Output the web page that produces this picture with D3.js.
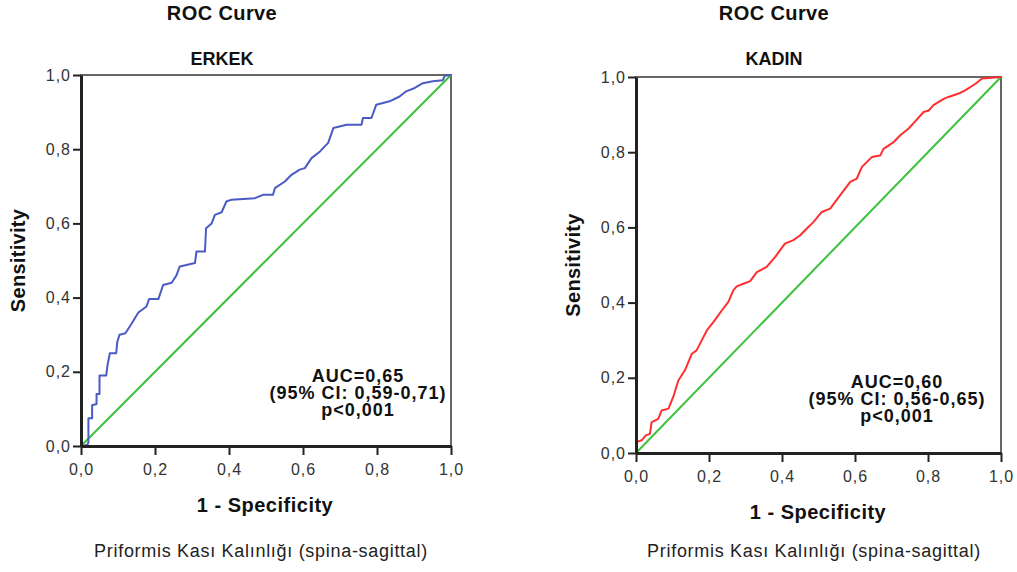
<!DOCTYPE html>
<html>
<head>
<meta charset="utf-8">
<script src="https://cdn.jsdelivr.net/npm/d3@7"></script>
<style>
  body { margin: 0; background: #fff; }
  svg { display: block; font-family: "Liberation Sans", Arial, sans-serif; }
  .bold { font-weight: bold; fill: #111; }
</style>
</head>
<body>
<svg id="chart" width="1017" height="572"></svg>
<script>
// values
const tickValues = [0, 0.2, 0.4, 0.6, 0.8, 1.0];
const diagonal = [0, 1];

// ERKEK (men) - 1-specificity / sensitivity
const erkekFpr = [0, 0.017, 0.02, 0.02, 0.03, 0.03, 0.042, 0.042, 0.05, 0.05, 0.068, 0.072, 0.078, 0.095, 0.098, 0.104, 0.12, 0.137, 0.155, 0.177, 0.184, 0.209, 0.222, 0.245, 0.258, 0.267, 0.285, 0.308, 0.312, 0.335, 0.338, 0.353, 0.362, 0.38, 0.393, 0.407, 0.47, 0.492, 0.519, 0.524, 0.551, 0.569, 0.591, 0.605, 0.623, 0.646, 0.668, 0.682, 0.718, 0.758, 0.762, 0.785, 0.798, 0.834, 0.861, 0.879, 0.902, 0.924, 0.951, 0.978, 0.983, 1.0];
const erkekTpr = [0, 0.003, 0.01, 0.075, 0.075, 0.11, 0.113, 0.14, 0.14, 0.19, 0.19, 0.22, 0.25, 0.25, 0.28, 0.30, 0.304, 0.33, 0.36, 0.376, 0.396, 0.396, 0.434, 0.44, 0.46, 0.484, 0.488, 0.493, 0.524, 0.524, 0.587, 0.60, 0.623, 0.63, 0.659, 0.664, 0.668, 0.677, 0.677, 0.695, 0.713, 0.731, 0.745, 0.749, 0.776, 0.794, 0.817, 0.857, 0.866, 0.866, 0.884, 0.884, 0.92, 0.929, 0.942, 0.956, 0.965, 0.978, 0.983, 0.986, 0.998, 1.0];

// KADIN (women)
const kadinFpr = [0, 0, 0.016, 0.027, 0.038, 0.043, 0.061, 0.07, 0.089, 0.102, 0.116, 0.134, 0.153, 0.166, 0.194, 0.212, 0.235, 0.253, 0.267, 0.276, 0.294, 0.313, 0.331, 0.358, 0.381, 0.408, 0.431, 0.45, 0.468, 0.486, 0.509, 0.532, 0.559, 0.587, 0.605, 0.619, 0.646, 0.669, 0.678, 0.706, 0.724, 0.747, 0.761, 0.788, 0.802, 0.815, 0.843, 0.856, 0.884, 0.903, 0.93, 0.948, 1.0];
const kadinTpr = [0, 0.029, 0.034, 0.047, 0.051, 0.082, 0.091, 0.113, 0.118, 0.149, 0.193, 0.22, 0.264, 0.273, 0.326, 0.348, 0.379, 0.402, 0.433, 0.443, 0.45, 0.457, 0.481, 0.495, 0.521, 0.557, 0.566, 0.579, 0.597, 0.614, 0.641, 0.65, 0.685, 0.721, 0.73, 0.761, 0.787, 0.791, 0.809, 0.827, 0.845, 0.863, 0.878, 0.907, 0.911, 0.925, 0.942, 0.947, 0.956, 0.965, 0.982, 0.996, 1.0];

const erkekStats = ["AUC=0,65", "(95% CI: 0,59-0,71)", "p<0,001"];
const kadinStats = ["AUC=0,60", "(95% CI: 0,56-0,65)", "p<0,001"];
const variableName = "Priformis Kası Kalınlığı (spina-sagittal)";

const svg = d3.select("#chart");
const fmt = d => d3.format(".1f")(d).replace(".", ",");

function drawPanel(p) {
  const x = d3.scaleLinear().domain([0, 1]).range([p.left, p.right]);
  const y = d3.scaleLinear().domain([0, 1]).range([p.bottom, p.top]);
  const g = svg.append("g");

  // titles
  g.append("text").attr("class", "bold").attr("x", p.titleX).attr("y", 20)
    .attr("text-anchor", "middle").style("font-size", "20px").style("letter-spacing", "0.4px")
    .text("ROC Curve");
  g.append("text").attr("class", "bold").attr("x", p.titleX).attr("y", 65)
    .attr("text-anchor", "middle").style("font-size", "18px").text(p.name);

  // frame (top/right lighter)
  g.append("rect").attr("x", p.left).attr("y", p.top)
    .attr("width", p.right - p.left).attr("height", p.bottom - p.top)
    .attr("fill", "none").attr("stroke", "#666").attr("stroke-width", 2);

  // diagonal reference line
  const line = d3.line().x(d => x(d[0])).y(d => y(d[1]));
  g.append("path").datum(diagonal.map(d => [d, d]))
    .attr("d", line).attr("fill", "none")
    .attr("stroke", "#3cc13c").attr("stroke-width", 2);

  // ROC curve
  g.append("path").datum(p.fpr.map((d, i) => [d, p.tpr[i]]))
    .attr("d", line).attr("fill", "none")
    .attr("stroke", p.color).attr("stroke-width", 2)
    .attr("stroke-linejoin", "round");

  // axes
  const xAxis = g.append("g").attr("transform", `translate(0, ${p.bottom})`)
    .call(d3.axisBottom(x).tickValues(tickValues).tickFormat(fmt).tickSize(9).tickSizeOuter(0).tickPadding(6));
  const yAxis = g.append("g").attr("transform", `translate(${p.left}, 0)`)
    .call(d3.axisLeft(y).tickValues(tickValues).tickFormat(fmt).tickSize(8).tickSizeOuter(0).tickPadding(2));
  [xAxis, yAxis].forEach(a => {
    a.attr("font-family", null).attr("font-size", null);
    a.select(".domain").attr("stroke", "#222").attr("stroke-width", 3);
    a.selectAll(".tick line").attr("stroke", "#222").attr("stroke-width", 2);
    a.selectAll(".tick text").attr("fill", "#333")
      .style("font-size", "16px").style("letter-spacing", "1px");
  });
  xAxis.selectAll(".tick text").attr("dy", "0.85em");

  // axis labels
  g.append("text").attr("class", "bold")
    .attr("transform", `translate(${p.ylabX}, ${(p.top + p.bottom) / 2}) rotate(-90)`)
    .attr("text-anchor", "middle").style("font-size", "20px").style("letter-spacing", "0.3px")
    .text("Sensitivity");
  g.append("text").attr("class", "bold").attr("x", p.xlabX).attr("y", p.bottom + 66)
    .attr("text-anchor", "middle").style("font-size", "20px").style("letter-spacing", "0.5px")
    .text("1 - Specificity");
  g.append("text").attr("x", p.xlabX - 4).attr("y", 557)
    .attr("text-anchor", "middle").style("font-size", "18px").style("letter-spacing", "0.7px")
    .attr("fill", "#222").text(variableName);

  // AUC annotation
  g.append("g").selectAll("text").data(p.stats).enter().append("text")
    .attr("class", "bold")
    .attr("x", p.statX).attr("y", (d, i) => p.statY + i * 17)
    .attr("text-anchor", "middle").style("font-size", "18px").style("letter-spacing", "1px")
    .text(d => d);
}

drawPanel({
  name: "ERKEK", left: 81, right: 451, top: 75, bottom: 446,
  titleX: 222, ylabX: 25, xlabX: 265, statX: 358, statY: 382,
  fpr: erkekFpr, tpr: erkekTpr, color: "#4a5bc4", stats: erkekStats
});
drawPanel({
  name: "KADIN", left: 636, right: 1001, top: 77, bottom: 453,
  titleX: 774, ylabX: 580, xlabX: 818, statX: 897, statY: 388,
  fpr: kadinFpr, tpr: kadinTpr, color: "#ff2f2f", stats: kadinStats
});
</script>
</body>
</html>
